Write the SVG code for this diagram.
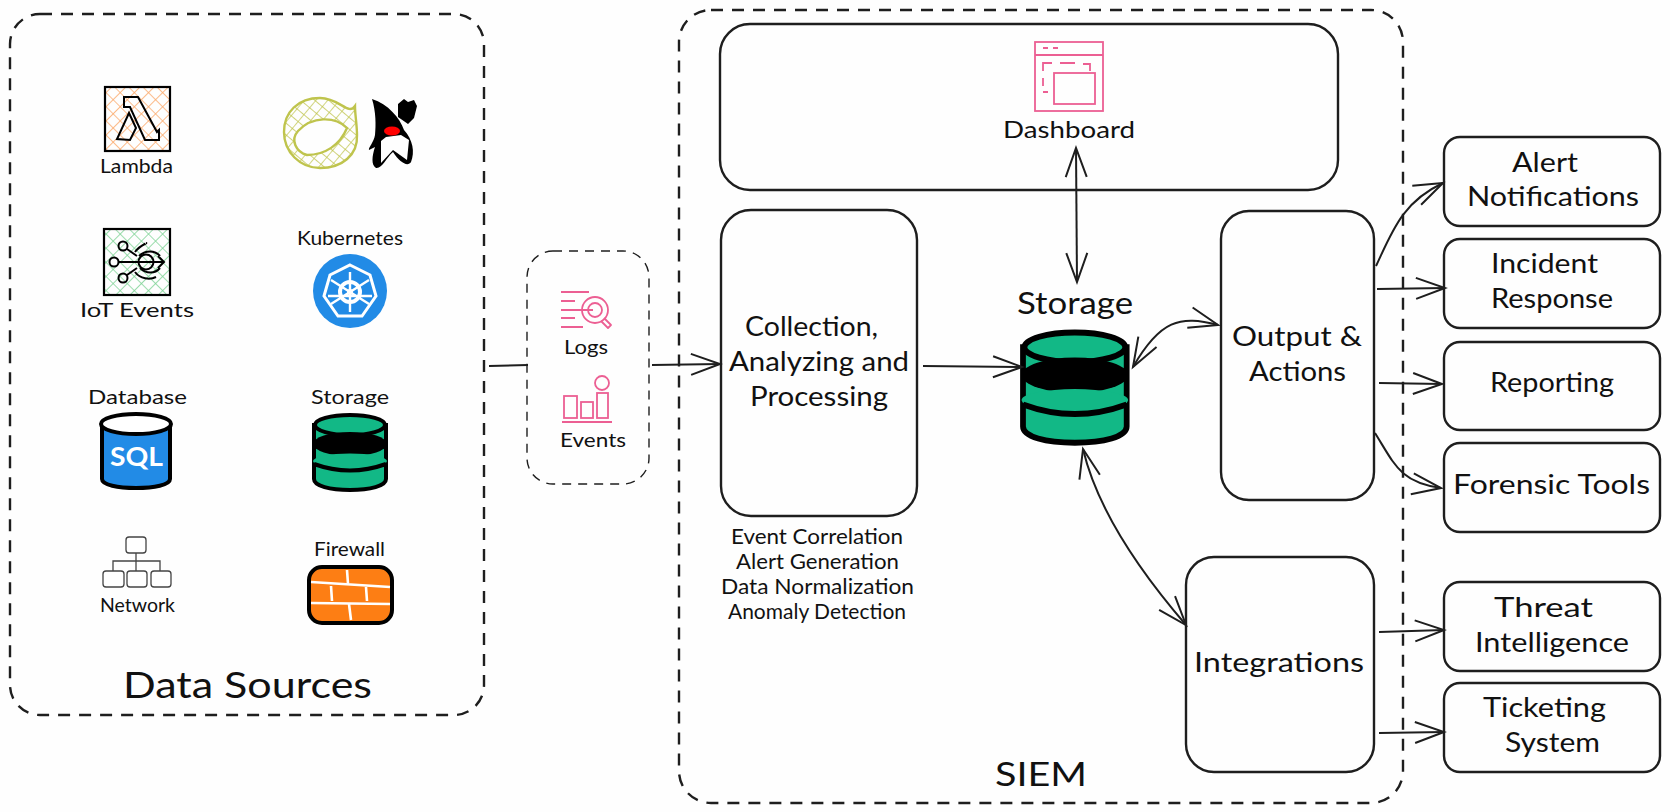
<svg xmlns="http://www.w3.org/2000/svg" width="1670" height="812" viewBox="0 0 1670 812">
<style>
text{font-family:"Lato","Open Sans",sans-serif;fill:#111;text-anchor:start}
.s{font-size:19px}.m{font-size:21px}.n{font-size:27px}
.box{fill:none;stroke:#1e1e1e;stroke-width:2.4}
.dash{fill:none;stroke:#1e1e1e;stroke-width:2.4;stroke-dasharray:12 9}
.pink{fill:none;stroke:#ec5f93;stroke-width:1.8}
.con{fill:none;stroke:#1e1e1e;stroke-width:2;marker-end:url(#head)}
.both{marker-start:url(#head)}
</style>
<defs>
<marker id="head" markerUnits="userSpaceOnUse" markerWidth="36" markerHeight="28" refX="31" refY="14" orient="auto-start-reverse" viewBox="0 0 36 28">
<path d="M2 3.5L31 14L2 24.5" fill="none" stroke="#1e1e1e" stroke-width="2"/>
</marker>
<pattern id="hO" width="10" height="10" patternUnits="userSpaceOnUse" patternTransform="rotate(45)">
<path d="M0 0H10M0 0V10" stroke="#fca96a" stroke-width="1.6"/>
</pattern>
<pattern id="hG" width="10" height="10" patternUnits="userSpaceOnUse" patternTransform="rotate(45)">
<path d="M0 0H10M0 0V10" stroke="#80d396" stroke-width="1.6"/>
</pattern>
<pattern id="hY" width="9" height="9" patternUnits="userSpaceOnUse" patternTransform="rotate(40)">
<path d="M0 0H9M0 0V9" stroke="#bfc44d" stroke-width="1.4"/>
</pattern>
<g id="cyl">
<path d="M0 11V65C0 72 16 76 36 76S72 72 72 65V11Z" fill="#12b886" stroke="#000" stroke-width="4"/>
<ellipse cx="36" cy="11" rx="35" ry="10" fill="#12b886" stroke="#000" stroke-width="4"/>
<ellipse cx="36" cy="30" rx="37" ry="12" fill="#000"/>
<ellipse cx="36" cy="47" rx="37" ry="7.5" fill="#12b886"/>
<path d="M0 50Q36 63 72 50" fill="none" stroke="#000" stroke-width="4"/>
</g>
</defs>
<rect width="1670" height="812" fill="#fefefe"/>

<g id="data-sources">
<rect class="dash" x="10" y="14" width="474" height="701" rx="30"/>
<text x="123" y="698" font-size="36" textLength="249" lengthAdjust="spacingAndGlyphs">Data Sources</text>
</g>
<g id="lambda">
<rect x="105" y="87" width="65" height="64" fill="url(#hO)" stroke="#000" stroke-width="2.2"/>
<path d="M124 97H138L157 132L159 130V140H145L130 107H124ZM129 113L117 139L130 140L136 128Z" fill="none" stroke="#000" stroke-width="2"/>
<text class="s" x="100" y="173" textLength="73" lengthAdjust="spacingAndGlyphs">Lambda</text>
</g>
<g id="spring">
<path fill-rule="evenodd" d="M355 106C348 116 340 98 320 98C298 98 284 112 284 132C284 152 300 168 320 168C342 168 358 155 357 135C357 125 355 115 355 106ZM347 128C335 116 312 116 298 131C290 140 296 152 307 155C325 155 340 145 347 128Z" fill="url(#hY)" stroke="#bfc44d" stroke-width="2.4"/>
</g>
<g id="duke">
<path d="M372 99C388 104 400 118 404 130C413 140 415 152 411 162C408 167 400 163 393 152C386 158 382 169 376 168C371 165 372 156 375 147L369 150C368 148 374 142 375 135C376 125 376 112 372 99Z" fill="#000"/>
<path d="M381 141L381 163L393 150L407 160L409 140L401 135L386 137Z" fill="#fefefe"/>
<path d="M398 104L404 99L408 102L414 100L417 106L414 118L408 124L398 117Z" fill="#000"/>
<ellipse cx="392" cy="131" rx="8" ry="4.5" fill="#f00"/>
</g>
<g id="iot-events">
<rect x="104" y="229" width="66" height="66" fill="url(#hG)" stroke="#000" stroke-width="2.2"/>
<g fill="none" stroke="#000" stroke-width="2">
<circle cx="123" cy="246" r="4.5"/><circle cx="114" cy="262" r="4.5"/><circle cx="123" cy="278" r="4.5"/>
<circle cx="146" cy="262" r="7.5"/>
<path d="M119 262H163M158 256L164 262L158 268M127 249L137 256M127 275L137 268M135 252C140 245 148 243 146 243M135 272C140 279 150 280 156 277M139 256C145 250 155 250 160 256M140 268C146 274 155 274 160 268"/>
</g>
<text class="s" x="80" y="317" textLength="114" lengthAdjust="spacingAndGlyphs">IoT Events</text>
</g>
<g id="kubernetes">
<text class="s" x="297" y="245" textLength="106" lengthAdjust="spacingAndGlyphs">Kubernetes</text>
<circle cx="350" cy="291" r="37" fill="#228be6"/>
<path d="M350 265L370 275L376 296L362 316H338L324 296L330 275Z" fill="none" stroke="#fff" stroke-width="3"/>
<g fill="none" stroke="#fff">
<circle cx="350" cy="292" r="10" stroke-width="4"/>
<path stroke-width="2.4" d="M350 272V312M331 280L369 304M369 280L331 304M328 296H372"/>
</g>
<circle cx="350" cy="292" r="3" fill="#fff"/>
</g>
<g id="database">
<text class="s" x="88" y="404" textLength="99" lengthAdjust="spacingAndGlyphs">Database</text>
<path d="M102 424V479C102 485 118 488 136 488S170 485 170 479V424Z" fill="#228be6" stroke="#000" stroke-width="4"/>
<ellipse cx="136" cy="424" rx="35" ry="10" fill="#fff" stroke="#000" stroke-width="4"/>
<text x="110" y="466" font-size="27" font-weight="700" textLength="53" lengthAdjust="spacingAndGlyphs" style="fill:#fff">SQL</text>
</g>
<g id="storage-src">
<text class="s" x="311" y="404" textLength="78" lengthAdjust="spacingAndGlyphs">Storage</text>
<use href="#cyl" x="314" y="414"/>
</g>
<g id="network">
<g fill="#fff" stroke="#444" stroke-width="1.3">
<path d="M136 553V571M113 571V561H160V571" fill="none"/>
<rect x="126" y="537" width="20" height="16" rx="3"/>
<rect x="103" y="571" width="21" height="16" rx="3"/>
<rect x="127" y="571" width="20" height="16" rx="3"/>
<rect x="151" y="571" width="20" height="16" rx="3"/>
</g>
<text class="s" x="100" y="612" textLength="75" lengthAdjust="spacingAndGlyphs">Network</text>
</g>
<g id="firewall">
<text class="s" x="314" y="556" textLength="71" lengthAdjust="spacingAndGlyphs">Firewall</text>
<rect x="309" y="567" width="83" height="56" rx="13" fill="#fd7e14" stroke="#000" stroke-width="4"/>
<path d="M311 582L390 587M311 603L390 604M347 570L348 584M331 586L332 601M366 587L367 601M349 604L351 620" fill="none" stroke="#fff" stroke-width="2.6"/>
</g>

<g id="logs-events">
<rect x="527" y="251" width="122" height="233" rx="26" fill="none" stroke="#1e1e1e" stroke-width="1.4" stroke-dasharray="9 7"/>
<path class="pink" d="M561 292H589M561 301H575M561 310H593M561 318H575M561 327H583"/>
<circle class="pink" cx="595" cy="310" r="13"/><circle class="pink" cx="595" cy="310" r="7"/>
<path class="pink" stroke-linejoin="round" d="M604 318L611 325L608 328L601 321"/>
<path class="pink" d="M562 422H612"/>
<rect class="pink" x="564" y="396" width="13" height="22"/>
<rect class="pink" x="581" y="402" width="12" height="16"/>
<rect class="pink" x="597" y="393" width="11" height="25"/>
<circle class="pink" cx="602" cy="383" r="7"/>
<text class="s" x="564" y="354" textLength="44" lengthAdjust="spacingAndGlyphs">Logs</text>
<text class="s" x="560" y="447" textLength="66" lengthAdjust="spacingAndGlyphs">Events</text>
</g>

<g id="siem">
<rect class="dash" x="679" y="10" width="724" height="793" rx="32"/>
<text x="995" y="786" font-size="33" textLength="92" lengthAdjust="spacingAndGlyphs">SIEM</text>
</g>
<g id="dashboard">
<rect class="box" x="720" y="24" width="618" height="166" rx="30"/>
<rect class="pink" x="1035" y="42" width="68" height="69"/>
<path class="pink" d="M1035 55H1103M1043 48H1048M1053 48H1058M1090 71V64H1083M1075 63H1060M1052 63H1043V71M1043 78V86M1043 92H1048"/>
<rect class="pink" x="1054" y="73" width="41" height="31"/>
<text x="1003" y="138" textLength="132" lengthAdjust="spacingAndGlyphs" style="font-size:24px">Dashboard</text>
</g>
<g id="collection">
<rect class="box" x="721" y="210" width="196" height="306" rx="30"/>
<text class="n" x="745" y="336" textLength="133" lengthAdjust="spacingAndGlyphs">Collection,</text>
<text class="n" x="729" y="371" textLength="180" lengthAdjust="spacingAndGlyphs">Analyzing and</text>
<text class="n" x="750" y="406" textLength="138" lengthAdjust="spacingAndGlyphs">Processing</text>
<text class="m" x="731" y="544" textLength="172" lengthAdjust="spacingAndGlyphs">Event Correlation</text>
<text class="m" x="736" y="569" textLength="163" lengthAdjust="spacingAndGlyphs">Alert Generation</text>
<text class="m" x="721" y="594" textLength="193" lengthAdjust="spacingAndGlyphs">Data Normalization</text>
<text class="m" x="728" y="619" textLength="178" lengthAdjust="spacingAndGlyphs">Anomaly Detection</text>
</g>
<g id="storage">
<text x="1017" y="314" font-size="30" textLength="116" lengthAdjust="spacingAndGlyphs">Storage</text>
<use href="#cyl" transform="translate(1023 331) scale(1.44 1.47)"/>
</g>
<g id="output">
<rect class="box" x="1221" y="211" width="153" height="289" rx="28"/>
<text class="n" x="1232" y="346" textLength="130" lengthAdjust="spacingAndGlyphs">Output &amp;</text>
<text class="n" x="1249" y="381" textLength="97" lengthAdjust="spacingAndGlyphs">Actions</text>
</g>
<g id="integrations">
<rect class="box" x="1186" y="557" width="188" height="215" rx="28"/>
<text class="n" x="1194" y="672" textLength="170" lengthAdjust="spacingAndGlyphs">Integrations</text>
</g>
<g id="alert"><rect class="box" x="1444" y="137" width="216" height="89" rx="16"/>
<text class="n" x="1512" y="172" textLength="66" lengthAdjust="spacingAndGlyphs">Alert</text>
<text class="n" x="1467" y="206" textLength="172" lengthAdjust="spacingAndGlyphs">Notifications</text></g>
<g id="incident"><rect class="box" x="1444" y="239" width="216" height="89" rx="16"/>
<text class="n" x="1491" y="273" textLength="107" lengthAdjust="spacingAndGlyphs">Incident</text>
<text class="n" x="1491" y="308" textLength="122" lengthAdjust="spacingAndGlyphs">Response</text></g>
<g id="reporting"><rect class="box" x="1444" y="342" width="216" height="88" rx="16"/>
<text class="n" x="1490" y="392" textLength="124" lengthAdjust="spacingAndGlyphs">Reporting</text></g>
<g id="forensic"><rect class="box" x="1444" y="443" width="216" height="89" rx="16"/>
<text class="n" x="1453" y="494" textLength="197" lengthAdjust="spacingAndGlyphs">Forensic Tools</text></g>
<g id="threat"><rect class="box" x="1444" y="582" width="216" height="89" rx="16"/>
<text class="n" x="1494" y="617" textLength="99" lengthAdjust="spacingAndGlyphs">Threat</text>
<text class="n" x="1475" y="652" textLength="154" lengthAdjust="spacingAndGlyphs">Intelligence</text></g>
<g id="ticketing"><rect class="box" x="1444" y="683" width="216" height="89" rx="16"/>
<text class="n" x="1483" y="717" textLength="123" lengthAdjust="spacingAndGlyphs">Ticketing</text>
<text class="n" x="1505" y="752" textLength="95" lengthAdjust="spacingAndGlyphs">System</text></g>

<g id="connectors">
<path d="M489 366L528 365" fill="none" stroke="#1e1e1e" stroke-width="2"/>
<path class="con" d="M652 365L720 364"/>
<path class="con" d="M923 366L1022 367"/>
<path class="con both" d="M1076 148L1077 282"/>
<path class="con both" d="M1133 367C1160 320 1180 315 1218 325"/>
<path class="con both" d="M1083 449C1095 500 1130 560 1186 625" stroke-width="2.6"/>
<path class="con" d="M1376 266C1392 232 1402 202 1443 183" stroke-width="2.6"/>
<path class="con" d="M1377 289L1445 288"/>
<path class="con" d="M1379 383L1442 384"/>
<path class="con" d="M1375 433C1395 465 1400 482 1441 488"/>
<path class="con" d="M1379 632L1444 630"/>
<path class="con" d="M1379 733L1444 732"/>
</g>
</svg>
